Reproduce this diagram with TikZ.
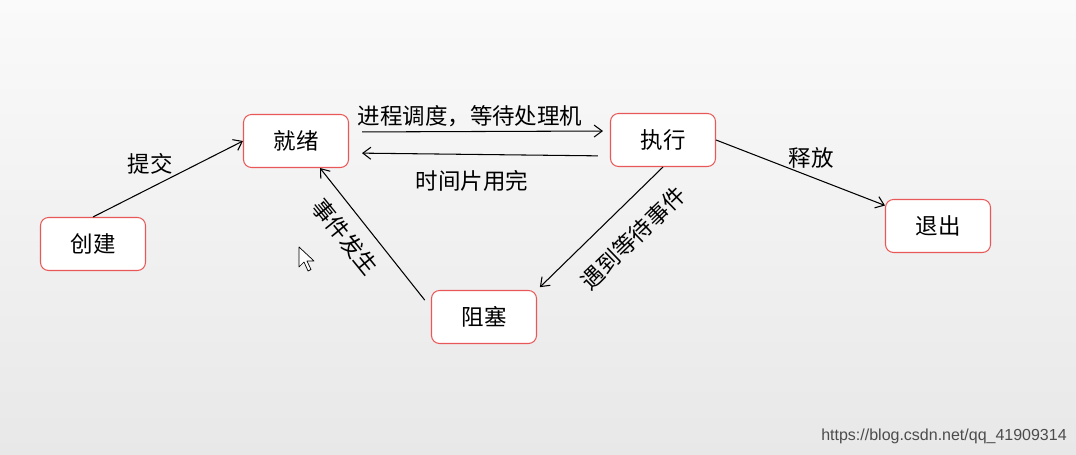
\documentclass[tikz,border=0pt]{standalone}
\usepackage{fontspec}
\setmainfont{Noto Sans CJK SC}
\setsansfont{Liberation Sans}
\usepackage{xcolor}
\usetikzlibrary{arrows.meta}
\definecolor{boxred}{RGB}{232,88,88}
\definecolor{bgtop}{RGB}{250,250,250}
\definecolor{bgbot}{RGB}{232,232,232}
\tikzset{
  state/.style={
    draw=boxred, fill=white, rounded corners=0.16cm, line width=0.6pt,
    minimum width=2.1cm, minimum height=1.06cm,
    font=\fontsize{12.8}{15}\selectfont
  },
  lbl/.style={font=\fontsize{12.8}{15}\selectfont, inner sep=0pt},
  link/.style={->, line width=0.6pt}
}

\begin{document}
\begin{tikzpicture}[x=0.02cm, y=-0.02cm, >={Straight Barb[length=1.6mm,width=2.4mm]}]
  \shade[top color=bgtop, bottom color=bgbot] (0,0) rectangle (1076,455);
  \useasboundingbox (0,0) rectangle (1076,455);

  % states
  \node[state] (create) at (93,244) {创建};
  \node[state] (ready) at (296,141) {就绪};
  \node[state] (run) at (663,140) {执行};
  \node[state] (exit) at (938,226) {退出};
  \node[state] (block) at (484,317) {阻塞};

  % labels
  \node[lbl] (submit) at (150,164) {提交};
  \node[lbl] (dispatch) at (470,116) {进程调度，等待处理机};
  \node[lbl] (timeout) at (472,181) {时间片用完};
  \node[lbl] (release) at (811,158) {释放};
  \node[lbl, rotate=44] (wait) at (633,238) {遇到等待事件};
  \node[lbl, rotate=-51] (wake) at (345,237) {事件发生};

  % transitions
  \draw[link] (create.north) -- (ready.west);
  \draw[link, shorten <=0.26cm, shorten >=0.14cm] ([yshift=0.18cm]ready.east) -- ([yshift=0.18cm]run.west);
  \draw[link, shorten <=0.24cm, shorten >=0.26cm] ([yshift=-0.32cm]run.west) -- ([yshift=-0.24cm]ready.east);
  \draw[link] (run.east) -- (exit);
  \draw[link, shorten >=0.08cm] (run.south) -- (block.north east);
  \draw[link, shorten <=0.2cm] ([yshift=-0.36cm]block.north west) -- ([xshift=0.48cm]ready.south);

  % mouse pointer
  \draw[fill=white, line width=0.4pt, line join=round]
    (299,247) -- ++(0,20) -- ++(5,-5) -- ++(4,9) -- ++(3,-1.5) -- ++(-4,-8.5) -- ++(7,0) -- cycle;

  % watermark
  \node[font=\sffamily\fontsize{9.1}{11}\selectfont, text=black!70, inner sep=0pt] (mark) at (944,436) {https://blog.csdn.net/qq\_41909314};
\end{tikzpicture}
\end{document}
